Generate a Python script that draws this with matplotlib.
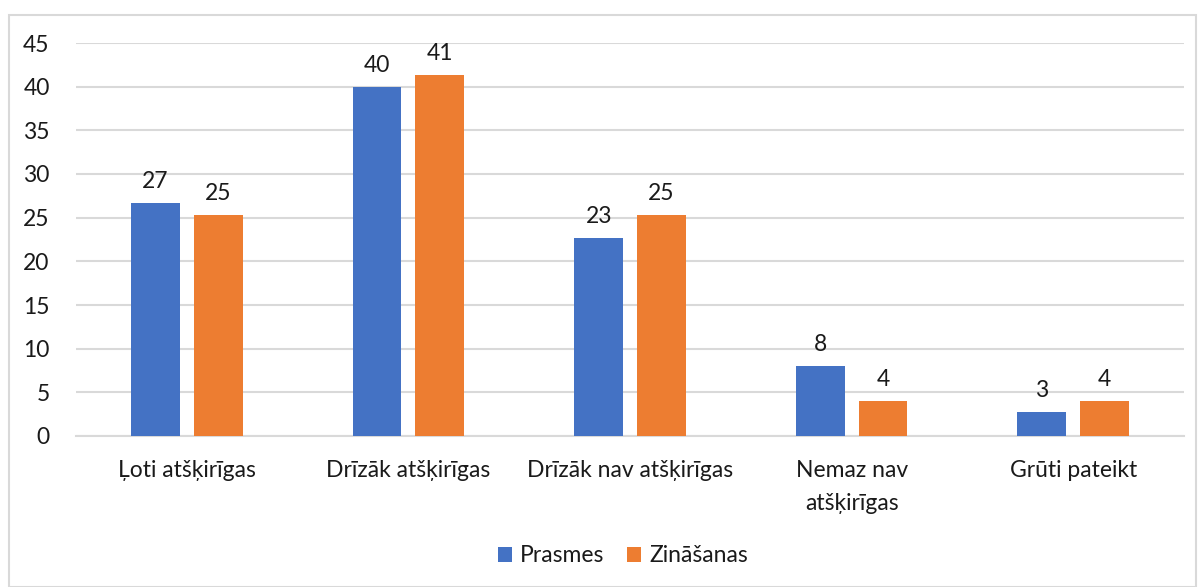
import matplotlib.pyplot as plt
import numpy as np
from matplotlib.patches import Rectangle

categories = ["Ļoti atšķirīgas", "Drīzāk atšķirīgas", "Drīzāk nav atšķirīgas",
              "Nemaz nav\natšķirīgas", "Grūti pateikt"]
prasmes = [26.7, 40.0, 22.7, 8.0, 2.7]
zinasanas = [25.3, 41.3, 25.3, 4.0, 4.0]
series_names = ["Prasmes", "Zināšanas"]
colors = ["#4472C4", "#ED7D31"]

plt.rcParams['font.family'] = ['Lato', 'DejaVu Sans']
txt = "#1a1a1a"
fs = 16.5

fig = plt.figure(figsize=(11.98, 5.87), dpi=100)
ax = fig.add_axes([76/1198, 1-436/587, (1184-76)/1198, (436-43)/587])

# chart border like the spreadsheet frame
fig.patches.append(Rectangle((9/1198, 0), (1196-9)/1198, 1-15/587,
                             transform=fig.transFigure, fill=False,
                             edgecolor="#d9d9d9", linewidth=1.5))

x = np.arange(len(categories))
w = 0.22
gap = 0.063
off = (w + gap) / 2
b1 = ax.bar(x - off, prasmes, w, color=colors[0], label=series_names[0], zorder=3)
b2 = ax.bar(x + off, zinasanas, w, color=colors[1], label=series_names[1], zorder=3)

for bars, vals in ((b1, prasmes), (b2, zinasanas)):
    for b, v in zip(bars, vals):
        ax.annotate(f"{v:.0f}", (b.get_x() + b.get_width()/2, v),
                    xytext=(0, 8), textcoords="offset points",
                    ha="center", va="bottom", fontsize=fs, color=txt)

ax.set_xlim(-0.5, len(categories) - 0.5)
ax.set_ylim(0, 45)
ax.set_yticks(range(0, 46, 5))
ax.set_xticks(x)
ax.set_xticklabels(categories, fontsize=fs, color=txt, linespacing=1.75)
ax.tick_params(axis="y", labelsize=fs, colors=txt, length=0, pad=19)
ax.tick_params(axis="x", length=0, pad=17)
ax.yaxis.grid(True, color="#d9d9d9", linewidth=1.5, zorder=0)
for s in ["top", "right", "left"]:
    ax.spines[s].set_visible(False)
ax.spines["bottom"].set_color("#d9d9d9")
ax.spines["bottom"].set_linewidth(1.5)

fig.legend(handles=[b1, b2], labels=series_names, loc="center",
           bbox_to_anchor=(0.52, 1-556/587), ncol=2, frameon=False,
           fontsize=fs, handlelength=0.6, handleheight=0.6,
           handletextpad=0.35, columnspacing=1.0, labelcolor=txt)

fig.savefig("out.png", dpi=100)
